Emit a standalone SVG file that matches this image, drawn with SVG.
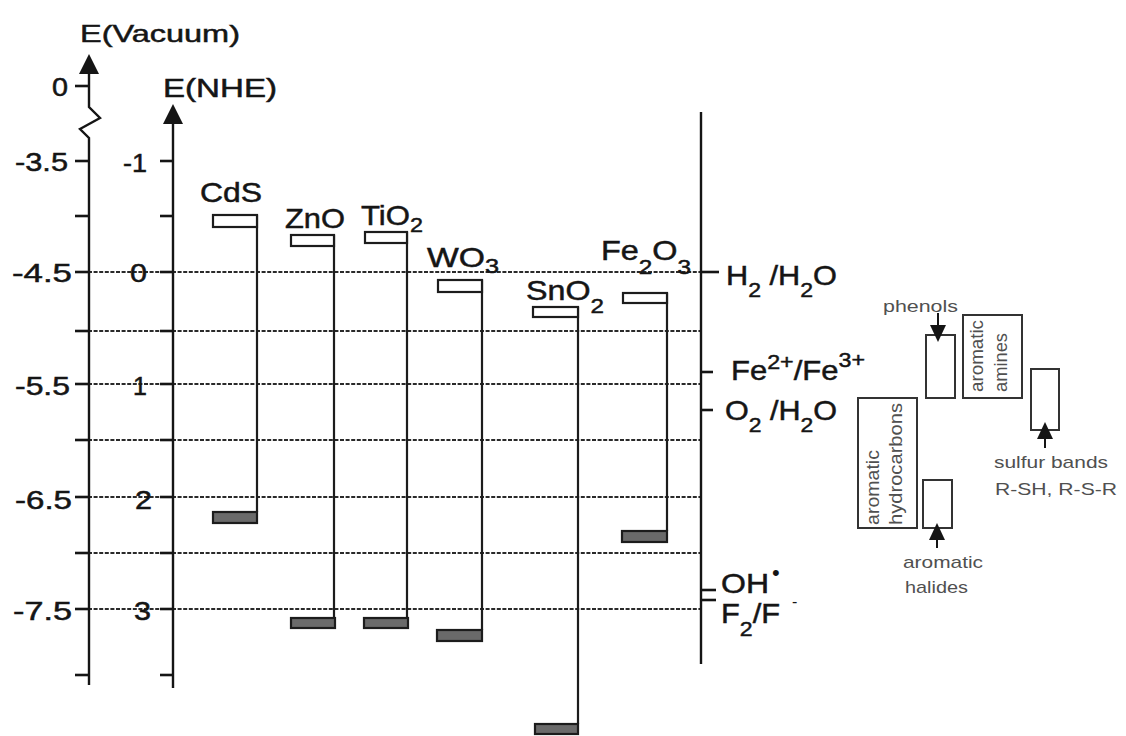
<svg xmlns="http://www.w3.org/2000/svg" width="1126" height="736" viewBox="0 0 1126 736">
<style>
  text { font-family: "Liberation Sans", Arial, sans-serif; fill: #151515; }
  .ax { stroke: #151515; stroke-width: 2.4; fill: none; }
  .tick { stroke: #151515; stroke-width: 2.6; }
  .num { font-size: 25px; stroke: #151515; stroke-width: 0.5; }
  .lbl { font-size: 28px; stroke: #151515; stroke-width: 0.5; }
  .grid { stroke: #2a2a2a; stroke-width: 2; stroke-dasharray: 4 1.6; fill: none; }
  .cb { fill: #ffffff; stroke: #1c1c1c; stroke-width: 2.2; }
  .vb { fill: #6a6a6a; stroke: #1c1c1c; stroke-width: 2.2; }
  .gap { stroke: #1c1c1c; stroke-width: 2.2; }
  .pbox { fill: #ffffff; stroke: #333333; stroke-width: 2; }
  .ptxt { fill: #505050; font-size: 17px; }
  .rtxt { fill: #505050; font-size: 18.5px; }
  .arr { fill: #151515; }
  .pl { stroke: #151515; stroke-width: 2; }
</style>

<!-- connectors: dotted energy levels -->
<g id="connectors">
  <line class="grid" x1="88" y1="272" x2="701" y2="272"/>
  <line class="grid" x1="88" y1="331" x2="701" y2="331"/>
  <line class="grid" x1="88" y1="384" x2="701" y2="384"/>
  <line class="grid" x1="88" y1="440" x2="701" y2="440"/>
  <line class="grid" x1="88" y1="497" x2="701" y2="497"/>
  <line class="grid" x1="88" y1="553" x2="701" y2="553"/>
  <line class="grid" x1="88" y1="609" x2="701" y2="609"/>
</g>

<!-- vacuum axis -->
<g id="axis-vacuum">
  <polyline class="ax" points="89,72 89,107 100,118 80,129 89,138 89,685"/>
  <polygon class="arr" points="89,54 79,74 99,74"/>
  <g class="tick">
    <line x1="75" y1="86" x2="89" y2="86"/>
    <line x1="75" y1="161" x2="89" y2="161"/>
    <line x1="75" y1="216" x2="89" y2="216"/>
    <line x1="75" y1="272" x2="89" y2="272"/>
    <line x1="75" y1="331" x2="89" y2="331"/>
    <line x1="75" y1="384" x2="89" y2="384"/>
    <line x1="75" y1="440" x2="89" y2="440"/>
    <line x1="75" y1="497" x2="89" y2="497"/>
    <line x1="75" y1="553" x2="89" y2="553"/>
    <line x1="75" y1="609" x2="89" y2="609"/>
    <line x1="75" y1="675" x2="89" y2="675"/>
  </g>
  <text x="80" y="42" font-size="24" stroke="#151515" stroke-width="0.5" textLength="160" lengthAdjust="spacingAndGlyphs">E(Vacuum)</text>
  <text class="num" x="52" y="96" textLength="16" lengthAdjust="spacingAndGlyphs">0</text>
  <text class="num" x="15" y="171" textLength="53" lengthAdjust="spacingAndGlyphs">-3.5</text>
  <text class="num" x="12" y="282" textLength="60" lengthAdjust="spacingAndGlyphs">-4.5</text>
  <text class="num" x="15" y="395" textLength="55" lengthAdjust="spacingAndGlyphs">-5.5</text>
  <text class="num" x="15" y="509" textLength="57" lengthAdjust="spacingAndGlyphs">-6.5</text>
  <text class="num" x="13" y="620" textLength="59" lengthAdjust="spacingAndGlyphs">-7.5</text>
</g>

<!-- NHE axis -->
<g id="axis-nhe">
  <line class="ax" x1="173" y1="120" x2="173" y2="688"/>
  <polygon class="arr" points="173,104 163,124 183,124"/>
  <g class="tick">
    <line x1="160" y1="161" x2="173" y2="161"/>
    <line x1="160" y1="216" x2="173" y2="216"/>
    <line x1="160" y1="272" x2="173" y2="272"/>
    <line x1="160" y1="331" x2="173" y2="331"/>
    <line x1="160" y1="384" x2="173" y2="384"/>
    <line x1="160" y1="440" x2="173" y2="440"/>
    <line x1="160" y1="497" x2="173" y2="497"/>
    <line x1="160" y1="553" x2="173" y2="553"/>
    <line x1="160" y1="609" x2="173" y2="609"/>
    <line x1="160" y1="675" x2="173" y2="675"/>
  </g>
  <text x="163" y="97" font-size="25" stroke="#151515" stroke-width="0.5" textLength="114" lengthAdjust="spacingAndGlyphs">E(NHE)</text>
  <text class="num" x="123" y="172" textLength="24" lengthAdjust="spacingAndGlyphs">-1</text>
  <text class="num" x="130" y="282" textLength="17" lengthAdjust="spacingAndGlyphs">0</text>
  <text class="num" x="133" y="395">1</text>
  <text class="num" x="135" y="509" textLength="17" lengthAdjust="spacingAndGlyphs">2</text>
  <text class="num" x="134" y="620" textLength="17" lengthAdjust="spacingAndGlyphs">3</text>
</g>

<!-- semiconductors -->
<g id="cds">
  <line class="gap" x1="257" y1="215" x2="257" y2="512"/>
  <rect class="cb" x="213" y="215" width="44" height="12"/>
  <rect class="vb" x="213" y="512" width="44" height="11"/>
  <text class="lbl" x="200" y="202" textLength="62" lengthAdjust="spacingAndGlyphs">CdS</text>
</g>
<g id="zno">
  <line class="gap" x1="334" y1="235" x2="334" y2="618"/>
  <rect class="cb" x="291" y="235" width="43" height="11"/>
  <rect class="vb" x="291" y="618" width="44" height="10"/>
  <text class="lbl" x="285" y="228" textLength="60" lengthAdjust="spacingAndGlyphs">ZnO</text>
</g>
<g id="tio2">
  <line class="gap" x1="407" y1="232" x2="407" y2="618"/>
  <rect class="cb" x="365" y="232" width="42" height="11"/>
  <rect class="vb" x="364" y="618" width="44" height="10"/>
  <text class="lbl" x="361" y="225" textLength="62" lengthAdjust="spacingAndGlyphs">TiO<tspan font-size="21" dy="7">2</tspan></text>
</g>
<g id="wo3">
  <line class="gap" x1="482" y1="280" x2="482" y2="630"/>
  <rect class="cb" x="438" y="280" width="44" height="12"/>
  <rect class="vb" x="437" y="630" width="45" height="11"/>
  <text class="lbl" x="427" y="267" textLength="72" lengthAdjust="spacingAndGlyphs">WO<tspan font-size="21" dy="6">3</tspan></text>
</g>
<g id="sno2">
  <line class="gap" x1="578" y1="307" x2="578" y2="724"/>
  <rect class="cb" x="533" y="307" width="45" height="10"/>
  <rect class="vb" x="535" y="724" width="43" height="10"/>
  <text class="lbl" x="526" y="300" textLength="78" lengthAdjust="spacingAndGlyphs">SnO<tspan font-size="21" dy="13">2</tspan></text>
</g>
<g id="fe2o3">
  <line class="gap" x1="667" y1="293" x2="667" y2="531"/>
  <rect class="cb" x="623" y="293" width="44" height="10"/>
  <rect class="vb" x="622" y="531" width="45" height="11"/>
  <text class="lbl" x="601" y="260" textLength="90" lengthAdjust="spacingAndGlyphs">Fe<tspan font-size="21" dy="14">2</tspan><tspan dy="-14">O</tspan><tspan font-size="21" dy="14">3</tspan></text>
</g>

<!-- redox axis -->
<g id="axis-redox">
  <line class="ax" x1="701" y1="112" x2="701" y2="664"/>
  <line class="tick" x1="701" y1="272" x2="719" y2="272" stroke-width="3"/>
  <line class="tick" x1="701" y1="372" x2="713" y2="372"/>
  <line class="tick" x1="701" y1="410" x2="713" y2="410"/>
  <line class="tick" x1="701" y1="590" x2="716" y2="590"/>
  <line class="tick" x1="701" y1="600" x2="716" y2="600"/>
</g>
<g id="h2-h2o">
  <text class="lbl" x="726" y="285" textLength="111" lengthAdjust="spacingAndGlyphs">H<tspan font-size="21" dy="12">2</tspan><tspan dy="-12"> /H</tspan><tspan font-size="21" dy="12">2</tspan><tspan dy="-12">O</tspan></text>
</g>
<g id="fe2-fe3">
  <text class="lbl" x="731" y="380" textLength="134" lengthAdjust="spacingAndGlyphs">Fe<tspan font-size="21" dy="-11">2+</tspan><tspan dy="11">/Fe</tspan><tspan font-size="21" dy="-13">3+</tspan></text>
</g>
<g id="o2-h2o">
  <text class="lbl" x="725" y="420" textLength="112" lengthAdjust="spacingAndGlyphs">O<tspan font-size="21" dy="12">2</tspan><tspan dy="-12"> /H</tspan><tspan font-size="21" dy="12">2</tspan><tspan dy="-12">O</tspan></text>
</g>
<g id="oh-radical">
  <text class="lbl" x="721" y="593" textLength="48" lengthAdjust="spacingAndGlyphs">OH</text>
  <text x="772" y="580" font-size="22">•</text>
</g>
<g id="f2-f">
  <text class="lbl" x="721" y="623" textLength="59" lengthAdjust="spacingAndGlyphs">F<tspan font-size="21" dy="13">2</tspan><tspan dy="-13">/F</tspan></text>
  <text x="792" y="607" font-size="16">-</text>
</g>

<!-- pollutant boxes -->
<g id="phenols">
  <rect class="pbox" x="926" y="335" width="29" height="63"/>
  <line class="pl" x1="938" y1="313" x2="938" y2="328"/>
  <polygon class="arr" points="930,325 946,325 938,342"/>
  <text class="ptxt" x="883" y="312" textLength="75" lengthAdjust="spacingAndGlyphs">phenols</text>
</g>
<g id="aromatic-amines">
  <rect class="pbox" x="963" y="315" width="59" height="83"/>
  <text class="rtxt" transform="translate(983,392) rotate(-90)" textLength="72" lengthAdjust="spacingAndGlyphs">aromatic</text>
  <text class="rtxt" transform="translate(1007,392) rotate(-90)" textLength="59" lengthAdjust="spacingAndGlyphs">amines</text>
</g>
<g id="sulfur-bands">
  <rect class="pbox" x="1031" y="369" width="28" height="61"/>
  <line class="pl" x1="1045" y1="434" x2="1045" y2="448"/>
  <polygon class="arr" points="1045,422 1037,439 1053,439"/>
  <text class="ptxt" x="994" y="468" textLength="114" lengthAdjust="spacingAndGlyphs">sulfur bands</text>
  <text class="ptxt" x="995" y="495" textLength="122" lengthAdjust="spacingAndGlyphs">R-SH, R-S-R</text>
</g>
<g id="aromatic-hydrocarbons">
  <rect class="pbox" x="858" y="398" width="59" height="130"/>
  <text class="rtxt" transform="translate(879,525) rotate(-90)" textLength="75" lengthAdjust="spacingAndGlyphs">aromatic</text>
  <text class="rtxt" transform="translate(902,525) rotate(-90)" textLength="122" lengthAdjust="spacingAndGlyphs">hydrocarbons</text>
</g>
<g id="aromatic-halides">
  <rect class="pbox" x="923" y="480" width="29" height="48"/>
  <line class="pl" x1="937" y1="535" x2="937" y2="548"/>
  <polygon class="arr" points="937,523 929,540 945,540"/>
  <text class="ptxt" x="903" y="568" textLength="80" lengthAdjust="spacingAndGlyphs">aromatic</text>
  <text class="ptxt" x="905" y="593" textLength="63" lengthAdjust="spacingAndGlyphs">halides</text>
</g>
</svg>
